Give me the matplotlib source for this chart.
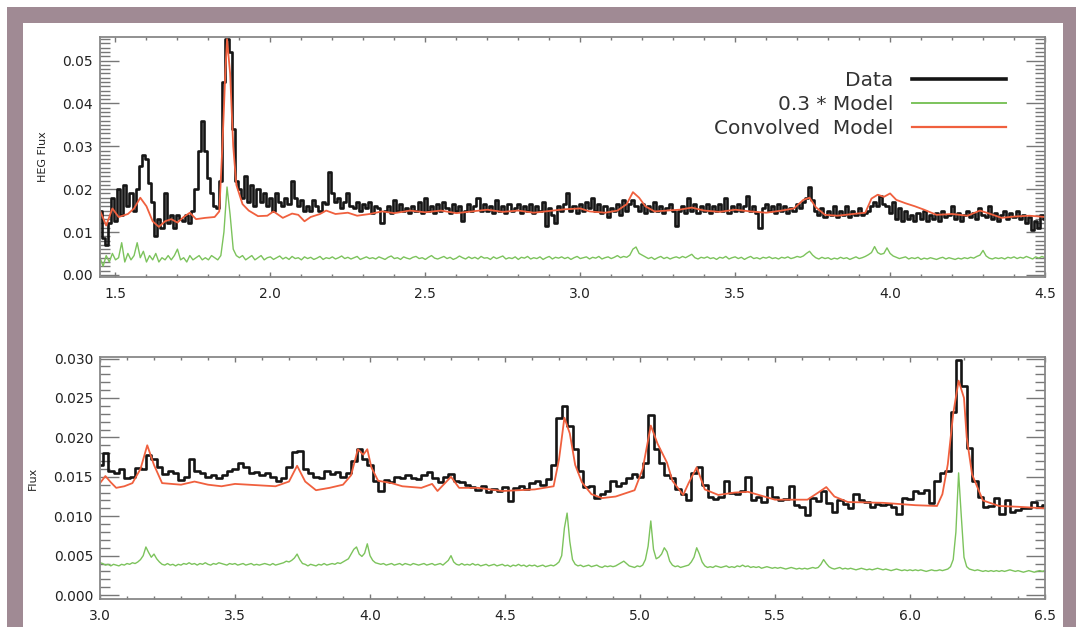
import numpy as np
import matplotlib
matplotlib.use("Agg")
import matplotlib.pyplot as plt
from matplotlib.patches import Rectangle
from matplotlib.ticker import MultipleLocator, AutoMinorLocator, FormatStrFormatter

# ---- top panel (HEG) : data binned every 0.01, from 1.45 to 4.50
top_data = [
    0.0150, 0.0085, 0.0070, 0.0120, 0.0180, 0.0125, 0.0200, 0.0140, 0.0210, 0.0160,
    0.0190, 0.0150, 0.0200, 0.0255, 0.0280, 0.0270, 0.0215, 0.0170, 0.0090, 0.0130,
    0.0110, 0.0190, 0.0120, 0.0140, 0.0110, 0.0140, 0.0130, 0.0125, 0.0140, 0.0120,
    0.0150, 0.0200, 0.0290, 0.0360, 0.0290, 0.0225, 0.0190, 0.0160, 0.0155, 0.0220,
    0.0450, 0.0550, 0.0520, 0.0340, 0.0220, 0.0200, 0.0180, 0.0230, 0.0170, 0.0210,
    0.0160, 0.0200, 0.0170, 0.0190, 0.0160, 0.0180, 0.0150, 0.0190, 0.0170, 0.0160,
    0.0180, 0.0165, 0.0220, 0.0180, 0.0160, 0.0175, 0.0150, 0.0160, 0.0150, 0.0175,
    0.0160, 0.0150, 0.0170, 0.0165, 0.0240, 0.0190, 0.0170, 0.0180, 0.0155, 0.0170,
    0.0190, 0.0160, 0.0155, 0.0170, 0.0150, 0.0165, 0.0155, 0.0170, 0.0145, 0.0160,
    0.0155, 0.0120, 0.0150, 0.0160, 0.0145, 0.0175, 0.0150, 0.0165, 0.0150, 0.0155,
    0.0145, 0.0160, 0.0150, 0.0170, 0.0145, 0.0180, 0.0150, 0.0160, 0.0145, 0.0165,
    0.0150, 0.0170, 0.0155, 0.0145, 0.0165, 0.0150, 0.0160, 0.0125, 0.0150, 0.0165,
    0.0150, 0.0160, 0.0180, 0.0150, 0.0165, 0.0150, 0.0160, 0.0145, 0.0175, 0.0150,
    0.0160, 0.0145, 0.0165, 0.0150, 0.0155, 0.0165, 0.0145, 0.0160, 0.0150, 0.0165,
    0.0145, 0.0160, 0.0150, 0.0170, 0.0115, 0.0155, 0.0140, 0.0120, 0.0160, 0.0150,
    0.0165, 0.0190, 0.0150, 0.0160, 0.0145, 0.0165, 0.0150, 0.0170, 0.0155, 0.0180,
    0.0150, 0.0165, 0.0145, 0.0160, 0.0135, 0.0155, 0.0150, 0.0165, 0.0140, 0.0175,
    0.0150, 0.0165, 0.0175, 0.0160, 0.0150, 0.0165, 0.0145, 0.0160, 0.0150, 0.0170,
    0.0150, 0.0160, 0.0145, 0.0155, 0.0165, 0.0150, 0.0115, 0.0150, 0.0160, 0.0145,
    0.0180, 0.0150, 0.0165, 0.0145, 0.0160, 0.0150, 0.0165, 0.0145, 0.0160, 0.0150,
    0.0165, 0.0150, 0.0180, 0.0145, 0.0160, 0.0150, 0.0165, 0.0150, 0.0160, 0.0185,
    0.0150, 0.0160, 0.0145, 0.0110, 0.0155, 0.0165, 0.0150, 0.0160, 0.0145, 0.0165,
    0.0150, 0.0160, 0.0145, 0.0155, 0.0150, 0.0165, 0.0155, 0.0170, 0.0180, 0.0205,
    0.0175, 0.0150, 0.0140, 0.0155, 0.0135, 0.0150, 0.0140, 0.0160, 0.0135, 0.0150,
    0.0140, 0.0160, 0.0135, 0.0150, 0.0140, 0.0155, 0.0140, 0.0145, 0.0150, 0.0160,
    0.0170, 0.0160, 0.0185, 0.0165, 0.0160, 0.0145, 0.0170, 0.0130, 0.0155, 0.0125,
    0.0150, 0.0130, 0.0140, 0.0125, 0.0145, 0.0130, 0.0150, 0.0125, 0.0140, 0.0130,
    0.0145, 0.0125, 0.0150, 0.0135, 0.0140, 0.0160, 0.0130, 0.0145, 0.0125, 0.0140,
    0.0150, 0.0135, 0.0145, 0.0130, 0.0155, 0.0140, 0.0135, 0.0160, 0.0130, 0.0145,
    0.0125, 0.0140, 0.0150, 0.0130, 0.0145, 0.0135, 0.0150, 0.0130, 0.0140, 0.0120,
    0.0135, 0.0105, 0.0125, 0.0110, 0.0140, 0.0130,
]

top_model = [
    0.0040, 0.0020, 0.0045, 0.0030, 0.0050, 0.0035, 0.0040, 0.0075, 0.0030, 0.0050,
    0.0035, 0.0045, 0.0075, 0.0040, 0.0055, 0.0030, 0.0045, 0.0035, 0.0050, 0.0030,
    0.0040, 0.0035, 0.0045, 0.0035, 0.0045, 0.0060, 0.0035, 0.0040, 0.0030, 0.0045,
    0.0035, 0.0040, 0.0045, 0.0035, 0.0040, 0.0035, 0.0045, 0.0040, 0.0035, 0.0045,
    0.0100, 0.0205, 0.0140, 0.0060, 0.0045, 0.0040, 0.0045, 0.0035, 0.0040, 0.0045,
    0.0035, 0.0040, 0.0045, 0.0035, 0.0040, 0.0042, 0.0036, 0.0040, 0.0044, 0.0037,
    0.0041, 0.0036, 0.0043, 0.0038, 0.0040, 0.0035, 0.0042, 0.0038, 0.0041, 0.0036,
    0.0039, 0.0043, 0.0036, 0.0040, 0.0038, 0.0042, 0.0037, 0.0040, 0.0044, 0.0038,
    0.0041, 0.0037, 0.0040, 0.0043, 0.0036, 0.0039, 0.0042, 0.0038, 0.0040, 0.0037,
    0.0042, 0.0039, 0.0036, 0.0041, 0.0044, 0.0038, 0.0040, 0.0036, 0.0042, 0.0039,
    0.0037, 0.0041, 0.0043, 0.0038, 0.0040, 0.0036, 0.0041, 0.0045, 0.0039, 0.0037,
    0.0040, 0.0043, 0.0038, 0.0041, 0.0036, 0.0039, 0.0044, 0.0040, 0.0037, 0.0042,
    0.0038, 0.0041, 0.0037, 0.0043, 0.0039, 0.0040, 0.0036, 0.0042, 0.0038, 0.0041,
    0.0044, 0.0037, 0.0040, 0.0038, 0.0042, 0.0036, 0.0041, 0.0039, 0.0043, 0.0037,
    0.0040, 0.0038, 0.0042, 0.0036, 0.0040, 0.0043, 0.0037, 0.0041, 0.0039, 0.0042,
    0.0038, 0.0041, 0.0036, 0.0040, 0.0043, 0.0038, 0.0040, 0.0042, 0.0037, 0.0041,
    0.0039, 0.0043, 0.0037, 0.0040, 0.0042, 0.0038, 0.0041, 0.0045, 0.0040, 0.0043,
    0.0041, 0.0046, 0.0060, 0.0065, 0.0050, 0.0046, 0.0042, 0.0038, 0.0041, 0.0036,
    0.0040, 0.0043, 0.0038, 0.0041, 0.0037, 0.0040, 0.0042, 0.0039, 0.0043, 0.0040,
    0.0044, 0.0048, 0.0040, 0.0037, 0.0041, 0.0039, 0.0042, 0.0038, 0.0040, 0.0036,
    0.0041, 0.0039, 0.0043, 0.0037, 0.0040, 0.0042, 0.0038, 0.0041, 0.0036, 0.0040,
    0.0043, 0.0038, 0.0040, 0.0037, 0.0041, 0.0039, 0.0042, 0.0038, 0.0040, 0.0037,
    0.0041, 0.0039, 0.0042, 0.0038, 0.0040, 0.0043, 0.0041, 0.0044, 0.0050, 0.0055,
    0.0046, 0.0040, 0.0037, 0.0041, 0.0038, 0.0040, 0.0036, 0.0039, 0.0037, 0.0041,
    0.0038, 0.0040, 0.0036, 0.0039, 0.0042, 0.0038, 0.0040, 0.0043, 0.0047, 0.0052,
    0.0066, 0.0052, 0.0048, 0.0050, 0.0063, 0.0050, 0.0044, 0.0041, 0.0038, 0.0040,
    0.0042, 0.0037, 0.0040, 0.0038, 0.0041, 0.0036, 0.0039, 0.0037, 0.0040, 0.0038,
    0.0036, 0.0039, 0.0041, 0.0037, 0.0040, 0.0038, 0.0036, 0.0039, 0.0037, 0.0040,
    0.0038, 0.0041, 0.0039, 0.0043, 0.0046, 0.0057, 0.0044, 0.0039, 0.0037, 0.0040,
    0.0038, 0.0040, 0.0037, 0.0041, 0.0039, 0.0042, 0.0038, 0.0041, 0.0039, 0.0043,
    0.0040, 0.0037, 0.0042, 0.0039, 0.0043, 0.0040,
]

top_conv_x = [1.45, 1.47, 1.49, 1.51, 1.54, 1.56, 1.58, 1.60, 1.62, 1.64, 1.66, 1.68,
              1.70, 1.72, 1.74, 1.76, 1.79, 1.82, 1.835, 1.845, 1.855, 1.86, 1.87,
              1.88, 1.89, 1.91, 1.93, 1.96, 1.99, 2.01, 2.04, 2.07, 2.09, 2.11, 2.13,
              2.16, 2.18, 2.21, 2.25, 2.28, 2.32, 2.36, 2.40, 2.45, 2.50, 2.55, 2.60,
              2.65, 2.70, 2.75, 2.80, 2.85, 2.90, 2.95, 3.00, 3.03, 3.08, 3.12, 3.15,
              3.17, 3.19, 3.21, 3.24, 3.28, 3.32, 3.36, 3.40, 3.45, 3.50, 3.55, 3.60,
              3.65, 3.69, 3.72, 3.74, 3.76, 3.79, 3.83, 3.88, 3.92, 3.94, 3.96, 3.98,
              4.00, 4.02, 4.05, 4.08, 4.11, 4.15, 4.20, 4.25, 4.29, 4.32, 4.36, 4.40,
              4.45, 4.50]
top_conv_y = [0.0150, 0.0115, 0.0155, 0.0135, 0.0142, 0.0155, 0.0180, 0.0160, 0.0125,
              0.0112, 0.0125, 0.0130, 0.0122, 0.0135, 0.0145, 0.0130, 0.0133, 0.0135,
              0.0148, 0.0300, 0.0480, 0.0550, 0.0470, 0.0300, 0.0210, 0.0165, 0.0150,
              0.0137, 0.0138, 0.0148, 0.0133, 0.0143, 0.0140, 0.0125, 0.0135, 0.0142,
              0.0150, 0.0142, 0.0145, 0.0138, 0.0142, 0.0148, 0.0144, 0.0150, 0.0146,
              0.0150, 0.0144, 0.0148, 0.0152, 0.0147, 0.0150, 0.0145, 0.0149, 0.0153,
              0.0155, 0.0148, 0.0145, 0.0150, 0.0165, 0.0193, 0.0180, 0.0160, 0.0148,
              0.0150, 0.0152, 0.0157, 0.0150, 0.0147, 0.0152, 0.0148, 0.0145, 0.0150,
              0.0155, 0.0175, 0.0180, 0.0158, 0.0140, 0.0138, 0.0142, 0.0145, 0.0178,
              0.0187, 0.0182, 0.0190, 0.0175, 0.0167, 0.0160, 0.0152, 0.0140, 0.0142,
              0.0138, 0.0150, 0.0143, 0.0133, 0.0136, 0.0138, 0.0135]

# ---- bottom panel : data binned every 0.02, from 3.00 to 6.50
bot_data = [
    0.0165, 0.0180, 0.0158, 0.0155, 0.0160, 0.0148, 0.0150, 0.0161, 0.0160, 0.0178,
    0.0172, 0.0162, 0.0153, 0.0158, 0.0155, 0.0146, 0.0150, 0.0172, 0.0158, 0.0155,
    0.0150, 0.0152, 0.0148, 0.0152, 0.0158, 0.0160, 0.0168, 0.0162, 0.0155, 0.0156,
    0.0152, 0.0155, 0.0150, 0.0145, 0.0148, 0.0162, 0.0182, 0.0183, 0.0160, 0.0155,
    0.0150, 0.0148, 0.0158, 0.0153, 0.0156, 0.0150, 0.0155, 0.0170, 0.0185, 0.0172,
    0.0165, 0.0145, 0.0132, 0.0146, 0.0143, 0.0150, 0.0148, 0.0152, 0.0149, 0.0147,
    0.0152, 0.0156, 0.0148, 0.0144, 0.0150, 0.0154, 0.0145, 0.0143, 0.0140, 0.0137,
    0.0133, 0.0138, 0.0131, 0.0135, 0.0132, 0.0137, 0.0119, 0.0136, 0.0138, 0.0135,
    0.0142, 0.0145, 0.0140, 0.0147, 0.0165, 0.0225, 0.0240, 0.0215, 0.0185, 0.0157,
    0.0137, 0.0138, 0.0123, 0.0128, 0.0132, 0.0145, 0.0138, 0.0142, 0.0148, 0.0153,
    0.0150, 0.0167, 0.0228, 0.0185, 0.0167, 0.0152, 0.0148, 0.0135, 0.0128, 0.0120,
    0.0155, 0.0162, 0.0140, 0.0125, 0.0122, 0.0124, 0.0145, 0.0130, 0.0128, 0.0132,
    0.0150, 0.0120, 0.0125, 0.0118, 0.0137, 0.0125, 0.0120, 0.0122, 0.0138, 0.0114,
    0.0112, 0.0101, 0.0123, 0.0119, 0.0132, 0.0117, 0.0106, 0.0120, 0.0115, 0.0110,
    0.0128, 0.0120, 0.0118, 0.0112, 0.0116, 0.0114, 0.0115, 0.0112, 0.0103, 0.0123,
    0.0122, 0.0132, 0.0130, 0.0133, 0.0117, 0.0145, 0.0155, 0.0158, 0.0232, 0.0298,
    0.0265, 0.0187, 0.0145, 0.0125, 0.0112, 0.0113, 0.0123, 0.0103, 0.0120, 0.0106,
    0.0108, 0.0110, 0.0111, 0.0118, 0.0112, 0.0114,
]

# model every 0.01, from 3.00 to 6.50
bot_model = [
    0.0041, 0.0040, 0.0038, 0.0039, 0.0037, 0.0039, 0.0038, 0.0037, 0.0039, 0.0038,
    0.0040, 0.0039, 0.0041, 0.0040, 0.0042, 0.0045, 0.0050, 0.0061, 0.0054, 0.0048,
    0.0052, 0.0046, 0.0042, 0.0039, 0.0038, 0.0040, 0.0038, 0.0039, 0.0037, 0.0039,
    0.0038, 0.0040, 0.0039, 0.0041, 0.0039, 0.0040, 0.0038, 0.0040, 0.0039, 0.0041,
    0.0039, 0.0038, 0.0040, 0.0039, 0.0041, 0.0040, 0.0039, 0.0038, 0.0040, 0.0039,
    0.0040, 0.0038, 0.0039, 0.0040, 0.0038, 0.0039, 0.0040, 0.0038, 0.0039, 0.0038,
    0.0039, 0.0040, 0.0039, 0.0038, 0.0040, 0.0038, 0.0039, 0.0040, 0.0041, 0.0043,
    0.0042, 0.0044, 0.0047, 0.0052, 0.0045, 0.0040, 0.0039, 0.0037, 0.0039, 0.0038,
    0.0037, 0.0039, 0.0038, 0.0040, 0.0038, 0.0039, 0.0040, 0.0039, 0.0041, 0.0040,
    0.0042, 0.0044, 0.0046, 0.0052, 0.0058, 0.0061, 0.0052, 0.0049, 0.0053, 0.0065,
    0.0050, 0.0044, 0.0041, 0.0040, 0.0039, 0.0040, 0.0038, 0.0039, 0.0040, 0.0038,
    0.0039, 0.0040, 0.0038, 0.0040, 0.0039, 0.0038, 0.0040, 0.0039, 0.0038, 0.0039,
    0.0040, 0.0038, 0.0039, 0.0040, 0.0038, 0.0039, 0.0040, 0.0038, 0.0041, 0.0044,
    0.0050, 0.0042, 0.0039, 0.0038, 0.0040, 0.0038, 0.0039, 0.0038, 0.0040, 0.0038,
    0.0039, 0.0037, 0.0038, 0.0039, 0.0037, 0.0038, 0.0039, 0.0037, 0.0038, 0.0039,
    0.0037, 0.0038, 0.0036, 0.0038, 0.0037, 0.0039, 0.0037, 0.0038, 0.0036, 0.0038,
    0.0037, 0.0038, 0.0036, 0.0037, 0.0038, 0.0036, 0.0037, 0.0038, 0.0037, 0.0039,
    0.0042, 0.0050, 0.0085, 0.0104, 0.0068, 0.0045, 0.0039, 0.0037, 0.0038, 0.0036,
    0.0037, 0.0038, 0.0036, 0.0037, 0.0038, 0.0036, 0.0035, 0.0037, 0.0036, 0.0037,
    0.0036, 0.0037, 0.0039, 0.0041, 0.0043, 0.0040, 0.0037, 0.0036, 0.0035, 0.0037,
    0.0036, 0.0038, 0.0045, 0.0062, 0.0094, 0.0058, 0.0046, 0.0048, 0.0052, 0.0060,
    0.0055, 0.0043, 0.0038, 0.0036, 0.0037, 0.0035, 0.0036, 0.0037, 0.0038, 0.0042,
    0.0048, 0.0060, 0.0052, 0.0042, 0.0037, 0.0035, 0.0036, 0.0035, 0.0037, 0.0036,
    0.0035, 0.0036, 0.0037, 0.0035, 0.0036, 0.0035, 0.0037, 0.0036, 0.0038, 0.0036,
    0.0037, 0.0035, 0.0036, 0.0035, 0.0036, 0.0034, 0.0035, 0.0036, 0.0035, 0.0034,
    0.0035, 0.0034, 0.0035, 0.0034, 0.0033, 0.0034, 0.0035, 0.0034, 0.0033, 0.0034,
    0.0033, 0.0034, 0.0033, 0.0034, 0.0035, 0.0034, 0.0035, 0.0039, 0.0045, 0.0040,
    0.0036, 0.0034, 0.0033, 0.0034, 0.0035, 0.0033, 0.0034, 0.0033, 0.0034, 0.0033,
    0.0032, 0.0033, 0.0034, 0.0033, 0.0032, 0.0033, 0.0032, 0.0033, 0.0034, 0.0033,
    0.0032, 0.0033, 0.0032, 0.0031, 0.0032, 0.0033, 0.0032, 0.0031, 0.0032, 0.0031,
    0.0032, 0.0031, 0.0032, 0.0031, 0.0032, 0.0031, 0.0030, 0.0031, 0.0032, 0.0031,
    0.0031, 0.0032, 0.0031, 0.0032, 0.0033, 0.0036, 0.0045, 0.0080, 0.0155, 0.0100,
    0.0048, 0.0036, 0.0033, 0.0032, 0.0031, 0.0032, 0.0031, 0.0030, 0.0031, 0.0030,
    0.0031, 0.0030, 0.0031, 0.0030, 0.0031, 0.0030, 0.0031, 0.0032, 0.0031, 0.0030,
    0.0031, 0.0030, 0.0029, 0.0030, 0.0031, 0.0030, 0.0029, 0.0030, 0.0031, 0.0030,
    0.0031,
]

bot_conv_x = [3.00, 3.02, 3.04, 3.06, 3.09, 3.12, 3.15, 3.175, 3.20, 3.23, 3.30, 3.35,
              3.40, 3.45, 3.50, 3.55, 3.60, 3.65, 3.70, 3.73, 3.76, 3.80, 3.85, 3.90,
              3.93, 3.955, 3.975, 3.99, 4.005, 4.03, 4.08, 4.12, 4.19, 4.23, 4.25, 4.30,
              4.33, 4.40, 4.49, 4.55, 4.61, 4.68, 4.70, 4.72, 4.74, 4.76, 4.785, 4.82,
              4.86, 4.91, 4.98, 5.01, 5.04, 5.065, 5.10, 5.12, 5.16, 5.18, 5.21, 5.24,
              5.29, 5.35, 5.40, 5.45, 5.50, 5.56, 5.62, 5.66, 5.69, 5.72, 5.77, 5.90,
              6.02, 6.10, 6.12, 6.14, 6.16, 6.18, 6.20, 6.21, 6.23, 6.27, 6.33, 6.40,
              6.50]
bot_conv_y = [0.0142, 0.0151, 0.0143, 0.0136, 0.0138, 0.0142, 0.0160, 0.0190, 0.0165,
              0.0142, 0.0140, 0.0144, 0.0140, 0.0138, 0.0141, 0.0140, 0.0139, 0.0138,
              0.0144, 0.0164, 0.0144, 0.0133, 0.0136, 0.0140, 0.0152, 0.0185, 0.0178,
              0.0185, 0.0162, 0.0145, 0.0142, 0.0138, 0.0136, 0.0141, 0.0132, 0.0150,
              0.0136, 0.0136, 0.0132, 0.0133, 0.0134, 0.0138, 0.0172, 0.0225, 0.0205,
              0.0165, 0.0143, 0.0128, 0.0123, 0.0125, 0.0133, 0.0160, 0.0215, 0.0192,
              0.0168, 0.0145, 0.0127, 0.0142, 0.0162, 0.0134, 0.0127, 0.0130, 0.0131,
              0.0126, 0.0121, 0.0121, 0.0121, 0.0130, 0.0137, 0.0125, 0.0118, 0.0117,
              0.0114, 0.0113, 0.0128, 0.0166, 0.0230, 0.0272, 0.0250, 0.0200, 0.0153,
              0.0120, 0.0113, 0.0112, 0.0110]

black = '#151515'
green = '#7cc35c'
red = '#f0603e'
mauve = '#a08a94'
textc = '#222222'

fig = plt.figure(figsize=(10.76, 6.27), dpi=100)
fig.patch.set_facecolor('white')

# frame around the figure
W, H = 1076.0, 627.0
fig.add_artist(Rectangle((7 / W, 0), (W - 7) / W, (H - 7) / H, transform=fig.transFigure,
                         facecolor=mauve, edgecolor='none', zorder=-10))
fig.add_artist(Rectangle((23 / W, 0), (1063 - 23) / W, (H - 23) / H, transform=fig.transFigure,
                         facecolor='white', edgecolor='none', zorder=-9))

ax1 = fig.add_axes([100 / W, (H - 277) / H, 945 / W, 240 / H])
ax2 = fig.add_axes([100 / W, (H - 599) / H, 945 / W, 242 / H])


def idl_style(ax, xmaj, ymaj, ymin_n, yfmt, xfmt):
    ax.xaxis.set_major_locator(MultipleLocator(xmaj))
    ax.xaxis.set_minor_locator(AutoMinorLocator(5))
    ax.yaxis.set_major_locator(MultipleLocator(ymaj))
    ax.yaxis.set_minor_locator(AutoMinorLocator(ymin_n))
    ax.yaxis.set_major_formatter(FormatStrFormatter(yfmt))
    ax.xaxis.set_major_formatter(FormatStrFormatter(xfmt))
    ax.tick_params(which='both', direction='in', top=True, right=True,
                   color='#777777', width=1.0, labelsize=10, labelcolor=textc)
    ax.tick_params(axis='y', which='major', length=13.5, pad=5)
    ax.tick_params(axis='y', which='minor', length=7)
    ax.tick_params(axis='x', which='major', length=3.6, pad=7)
    ax.tick_params(axis='x', which='minor', length=2)
    for sp in ax.spines.values():
        sp.set_color('#888888')
        sp.set_linewidth(1.3)


# top panel
x_top = np.linspace(1.45, 4.50, len(top_data))
x_top_m = np.linspace(1.45, 4.50, len(top_model))
ax1.plot(x_top, top_data, drawstyle='steps-mid', color=black, lw=1.9, label='Data')
ax1.plot(x_top_m, top_model, color=green, lw=1.0, label='0.3 * Model')
ax1.plot(top_conv_x, top_conv_y, color=red, lw=1.3, label='Convolved  Model')
ax1.set_xlim(1.45, 4.5)
ax1.set_ylim(-0.0005, 0.0555)
idl_style(ax1, 0.5, 0.01, 10, '%.2f', '%.1f')
ax1.set_ylabel('HEG Flux', fontsize=8, color=textc)
ax1.yaxis.set_label_coords(-0.055, 0.5)

leg = ax1.legend(loc='upper right', bbox_to_anchor=(0.959, 0.858), frameon=False,
                 markerfirst=False, fontsize=14.5, handlelength=4.7, handletextpad=0.9,
                 labelspacing=0.24, borderpad=0, borderaxespad=0)
for t in leg.get_texts():
    t.set_color('#333333')
for l, w in zip(leg.get_lines(), [2.6, 1.4, 1.6]):
    l.set_linewidth(w)

# bottom panel
x_bot = np.linspace(3.0, 6.5, len(bot_data))
x_bot_m = np.linspace(3.0, 6.5, len(bot_model))
ax2.plot(x_bot, bot_data, drawstyle='steps-mid', color=black, lw=1.9)
ax2.plot(x_bot_m, bot_model, color=green, lw=1.0)
ax2.plot(bot_conv_x, bot_conv_y, color=red, lw=1.3)
ax2.set_xlim(3.0, 6.5)
ax2.set_ylim(-0.0005, 0.0302)
idl_style(ax2, 0.5, 0.005, 5, '%.3f', '%.1f')
ax2.set_ylabel('Flux', fontsize=8, color=textc)
ax2.yaxis.set_label_coords(-0.066, 0.5)

plt.savefig('out.png', dpi=100)
